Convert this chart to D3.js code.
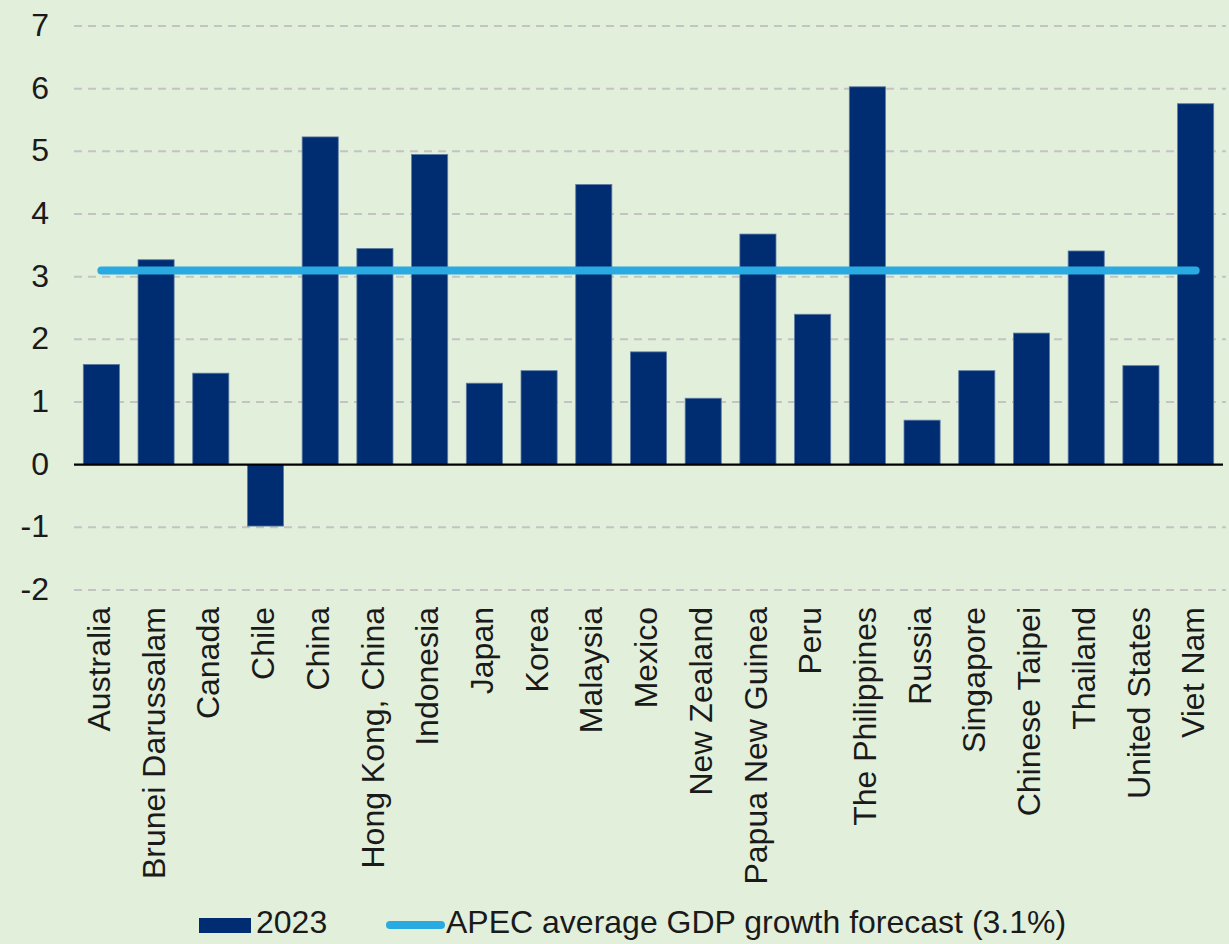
<!DOCTYPE html>
<html>
<head>
<meta charset="utf-8">
<script src="https://cdn.jsdelivr.net/npm/d3@7"></script>
<style>
  html, body { margin: 0; padding: 0; background: #e2efda; }
  svg { display: block; font-family: "Liberation Sans", Arial, sans-serif; }
</style>
</head>
<body>
<svg width="1229" height="944"></svg>
<script>
// economies on the x axis
var economies = ["Australia", "Brunei Darussalam", "Canada", "Chile", "China", "Hong Kong, China",
    "Indonesia", "Japan", "Korea", "Malaysia", "Mexico", "New Zealand", "Papua New Guinea", "Peru",
    "The Philippines", "Russia", "Singapore", "Chinese Taipei", "Thailand", "United States", "Viet Nam"];
// GDP growth 2023 (%)
var growth2023 = [1.60, 3.27, 1.46, -0.98, 5.23, 3.45, 4.95, 1.30, 1.50, 4.47, 1.80, 1.06, 3.68, 2.40,
    6.03, 0.71, 1.50, 2.10, 3.41, 1.58, 5.76];
var apecAverage = 3.1;
var yTicks = [-2, -1, 0, 1, 2, 3, 4, 5, 6, 7];
var legendLabels = ["2023", "APEC average GDP growth forecast (3.1%)"];

var svg = d3.select("svg");
var plotLeft = 74, plotRight = 1223, plotTop = 26, plotBottom = 590;

var x = d3.scaleBand()
    .domain(economies)
    .range([plotLeft, plotRight])
    .paddingInner(0.34)
    .paddingOuter(0.17);

var y = d3.scaleLinear()
    .domain([-2, 7])
    .range([plotBottom, plotTop]);

// dashed grid lines
svg.append("g").attr("class", "grid")
    .selectAll("line")
    .data(yTicks.filter(function(d) { return d != 0; }))
    .enter().append("line")
    .attr("x1", plotLeft)
    .attr("x2", plotRight + 3)
    .attr("y1", function(d) { return y(d); })
    .attr("y2", function(d) { return y(d); })
    .style("stroke", "#c3c3c3")
    .style("stroke-width", 2)
    .style("stroke-dasharray", "8,6");

// y axis labels (plain hyphen for negatives, like the original)
svg.append("g")
    .attr("transform", "translate(49,0)")
    .call(d3.axisLeft(y).tickValues(yTicks).tickSize(0).tickPadding(0).tickFormat(function(d) { return String(d); }))
    .call(function(g) { g.select(".domain").remove(); })
    .selectAll("text")
    .attr("dy", "0.3em")
    .style("font-size", "32px")
    .style("font-family", "'Liberation Sans', Arial, sans-serif")
    .style("fill", "#1a1a1a");

// bars
svg.append("g").attr("class", "bars")
    .selectAll("rect")
    .data(growth2023)
    .enter().append("rect")
    .attr("x", function(d, i) { return x(economies[i]); })
    .attr("width", x.bandwidth())
    .attr("y", function(d) { return y(Math.max(0, d)); })
    .attr("height", function(d) { return Math.abs(y(d) - y(0)); })
    .style("fill", "#002d72")
    .style("stroke", "#5f7ba3")
    .style("stroke-width", 0.8);

// zero line
svg.append("line")
    .attr("x1", plotLeft)
    .attr("x2", plotRight)
    .attr("y1", y(0))
    .attr("y2", y(0))
    .style("stroke", "#000")
    .style("stroke-width", 2.2);

// APEC average line
svg.append("line")
    .attr("x1", x(economies[0]) + x.bandwidth() / 2)
    .attr("x2", x(economies[economies.length - 1]) + x.bandwidth() / 2)
    .attr("y1", y(apecAverage))
    .attr("y2", y(apecAverage))
    .style("stroke", "#29abe2")
    .style("stroke-width", 8)
    .style("stroke-linecap", "round");

// x labels, rotated
svg.append("g").attr("class", "xlabels")
    .selectAll("text")
    .data(economies)
    .enter().append("text")
    .attr("transform", function(d) { return "translate(" + (x(d) + x.bandwidth() / 2) + ",607) rotate(-90)"; })
    .attr("dy", "0.27em")
    .attr("text-anchor", "end")
    .style("font-size", "32px")
    .style("fill", "#1a1a1a")
    .text(function(d) { return d; });

// legend
var legend = svg.append("g").attr("class", "legend");
legend.append("rect")
    .attr("x", 199).attr("y", 918)
    .attr("width", 52).attr("height", 15)
    .style("fill", "#002d72");
legend.append("text")
    .attr("x", 256).attr("y", 933)
    .style("font-size", "32px")
    .style("fill", "#1a1a1a")
    .text(legendLabels[0]);
legend.append("line")
    .attr("x1", 390).attr("x2", 441)
    .attr("y1", 925).attr("y2", 925)
    .style("stroke", "#29abe2")
    .style("stroke-width", 8)
    .style("stroke-linecap", "round");
legend.append("text")
    .attr("x", 446).attr("y", 933)
    .style("font-size", "32px")
    .style("fill", "#1a1a1a")
    .text(legendLabels[1]);
</script>
</body>
</html>
